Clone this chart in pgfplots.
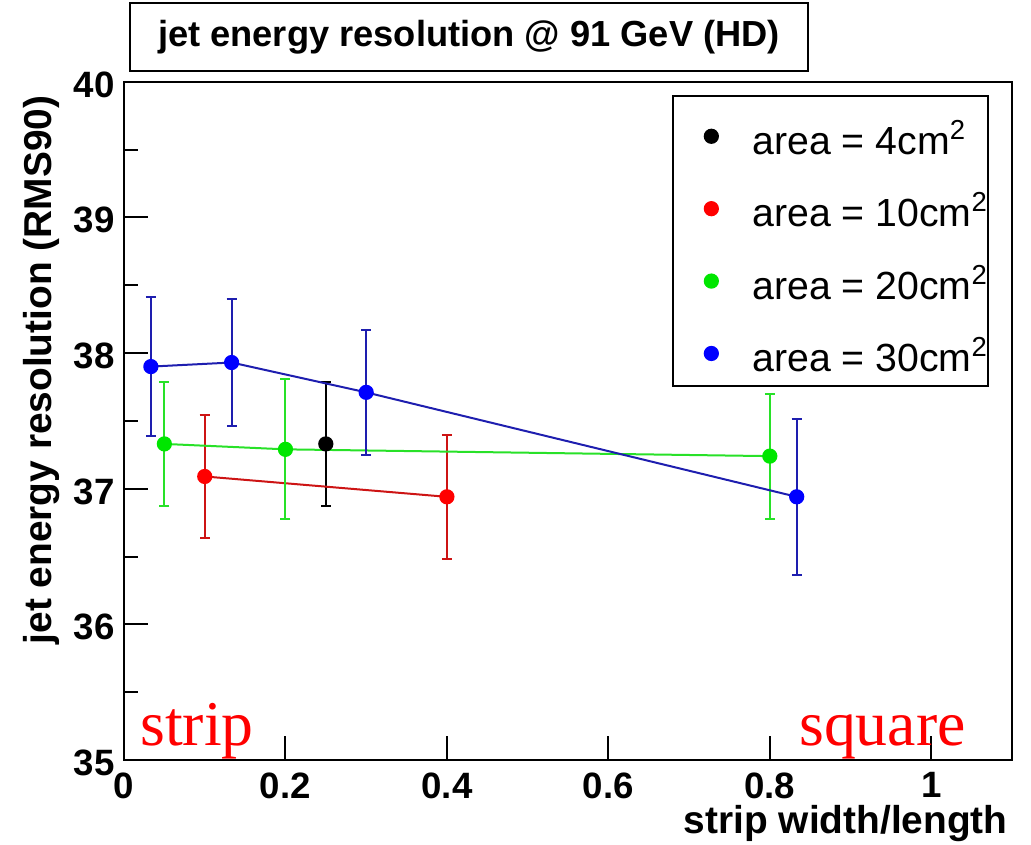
\documentclass[border=0pt]{standalone}
\usepackage{fontspec}
\setmainfont{Liberation Sans}
\newfontfamily\timesf{Liberation Serif}
\usepackage{pgfplots}
\pgfplotsset{compat=1.18}
\definecolor{rootred}{RGB}{255,0,0}
\definecolor{rootgreen}{RGB}{0,230,0}
\definecolor{rootblue}{RGB}{0,0,255}
\definecolor{linered}{RGB}{205,20,20}
\definecolor{linegreen}{RGB}{40,225,40}
\definecolor{lineblue}{RGB}{30,30,175}
\begin{document}
\begin{tikzpicture}
\useasboundingbox (-62bp,-42.5bp) rectangle (453.5bp,380bp);
\begin{axis}[
  scale only axis, width=444bp, height=339.15bp,
  xmin=0, xmax=1.1, ymin=35, ymax=40,
  clip=false,
  axis line style={line width=1.2bp},
  xtick={0,0.2,0.4,0.6,0.8,1}, xticklabels={0,0.2,0.4,0.6,0.8,1},
  ytick={35,36,37,38,39,40}, yticklabels={\raisebox{-2.5bp}{35},36,37,38,39,40},
  minor ytick={35.5,36.5,37.5,38.5,39.5},
  tick pos=left, tick align=inside,
  major tick length=12bp, minor tick length=7bp,
  every tick/.style={line width=1bp, black},
  tick label style={font=\bfseries\fontsize{18.4}{18.4}\selectfont, inner sep=0pt},
  xticklabel style={anchor=north, yshift=-6bp},
  yticklabel style={anchor=east, xshift=-4.5bp, yshift=-1.5bp},
  xlabel={strip width/length},
  ylabel={jet energy resolution (RMS90)},
  label style={font=\bfseries\fontsize{19.5}{19.5}\selectfont, inner sep=0pt},
  xlabel style={at={(axis description cs:0.9955,-0.0944)}, anchor=east},
  ylabel style={at={(axis description cs:-0.0929,0.575)}, anchor=center, rotate=0},
  legend style={at={(rel axis cs:0.974,0.980)}, anchor=north east, draw=black, line width=1bp,
    inner sep=0pt, row sep=0pt, font=\fontsize{19.7}{19.7}\selectfont,
    nodes={inner sep=0pt, text height=29bp, text depth=7.2bp, anchor=base west},
    /tikz/every even column/.style={column sep=0pt}},
  legend cell align=left,
  legend image code/.code={\path (0bp,0bp) (38.5bp,0bp); \draw[#1] plot[only marks] coordinates {(18.5bp,9bp)};},
]
% black: area = 4cm2
\addplot[color=black, line width=1bp, mark=*, mark size=3.3bp, mark options={fill=black, draw=black},
  error bars/.cd, y dir=both, y explicit,
  error bar style={line width=1bp, black},
  error mark options={rotate=90, mark size=2.5bp, line width=1bp, black}]
  coordinates {(0.25,37.33) +- (0,0.455)};
\addlegendentry{area = 4cm\textsuperscript{2}}
% red: area = 10cm2
\addplot[color=linered, line width=1bp, mark=*, mark size=3.3bp, mark options={fill=rootred, draw=rootred},
  error bars/.cd, y dir=both, y explicit,
  error bar style={line width=1bp, linered},
  error mark options={rotate=90, mark size=2.5bp, line width=1bp, linered}]
  coordinates {(0.1,37.09) +- (0,0.455) (0.4,36.94) +- (0,0.455)};
\addlegendentry{area = 10cm\textsuperscript{2}}
% green: area = 20cm2
\addplot[color=linegreen, line width=1bp, mark=*, mark size=3.3bp, mark options={fill=rootgreen, draw=rootgreen},
  error bars/.cd, y dir=both, y explicit,
  error bar style={line width=1bp, linegreen},
  error mark options={rotate=90, mark size=2.5bp, line width=1bp, linegreen}]
  coordinates {(0.05,37.33) +- (0,0.455) (0.2,37.29) +- (0,0.515) (0.8,37.24) +- (0,0.46)};
\addlegendentry{area = 20cm\textsuperscript{2}}
% blue: area = 30cm2
\addplot[color=lineblue, line width=1bp, mark=*, mark size=3.3bp, mark options={fill=rootblue, draw=rootblue},
  error bars/.cd, y dir=both, y explicit,
  error bar style={line width=1bp, lineblue},
  error mark options={rotate=90, mark size=2.5bp, line width=1bp, lineblue}]
  coordinates {(0.0333,37.90) +- (0,0.515) (0.1333,37.93) +- (0,0.465) (0.3,37.71) +- (0,0.46) (0.8333,36.94) +- (0,0.575)};
\addlegendentry{area = 30cm\textsuperscript{2}}
% annotations
\node[anchor=base west, inner sep=0pt, text=red, font=\timesf\fontsize{32}{32}\selectfont] at (rel axis cs:0.018,0.0221) {strip};
\node[anchor=base west, inner sep=0pt, text=red, font=\timesf\fontsize{32}{32}\selectfont] at (rel axis cs:0.760,0.0221) {square};
% title box
\node[draw=black, line width=1bp, minimum width=339bp, minimum height=34bp, inner sep=0pt,
  font=\bfseries\fontsize{18.2}{18.2}\selectfont] at (rel axis cs:0.3885,1.0659) {jet energy resolution @ 91 GeV (HD)};
\end{axis}
\end{tikzpicture}
\end{document}
